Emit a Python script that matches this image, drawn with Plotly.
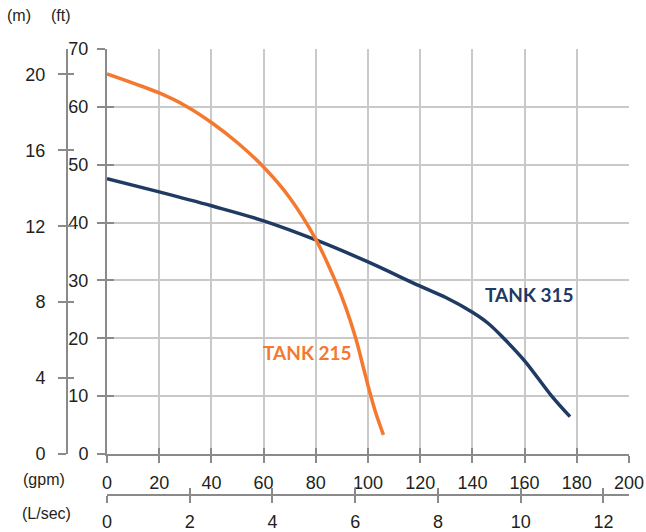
import plotly.graph_objects as go

# ---- data ----
gpm_215 = [0, 10, 20, 30, 40, 50, 60, 70, 80, 87.4, 91.5, 95.3, 98.2, 100.5, 102.9, 105.9]
ft_215 = [65.7, 64.1, 62.4, 60.2, 57.3, 53.8, 49.6, 44.3, 37.1, 30.0, 25.3, 20.0, 15.0, 11.0, 7.2, 3.3]

gpm_315 = [0, 20, 40, 60, 80, 100, 120, 130, 140, 146, 152, 160, 170.4, 177.4]
ft_315 = [47.6, 45.3, 42.9, 40.3, 37.0, 33.2, 29.0, 27.0, 24.5, 22.6, 20.0, 16.1, 10.0, 6.45]

gpm_ticks = [0, 20, 40, 60, 80, 100, 120, 140, 160, 180, 200]
ft_ticks = [0, 10, 20, 30, 40, 50, 60, 70]
m_ticks = [0, 4, 8, 12, 16, 20]
ls_ticks = [0, 2, 4, 6, 8, 10, 12]

GPM_PER_LS = 15.8503
FT_PER_M = 3.28084
GPM_MAX = 200
FT_MAX = 70

W, H = 646, 532
ML, MR, MT, MB = 0, 17, 49, 0
PW, PH = W - ML - MR, H - MT - MB

def px_x(px):
    return (px - ML) / PW

def px_y(py):
    return (H - MB - py) / PH

AXC = "#8a8a8a"
GRIDC = "#c9c9c9"
TXT = "#231f20"
FONT = "Liberation Sans, Arial, sans-serif"
NAVY = "#1f3a63"
ORANGE = "#f4792f"

x_dom = [px_x(107), 1]
y_dom = [px_y(454), 1]
ls_pos = px_y(495)
m_pos = px_x(67)

fig = go.Figure()
fig.add_trace(go.Scatter(x=gpm_315, y=ft_315, mode="lines",
                         line=dict(color=NAVY, width=3.5, shape="spline", smoothing=1.0),
                         hoverinfo="skip", showlegend=False))
fig.add_trace(go.Scatter(x=gpm_215, y=ft_215, mode="lines",
                         line=dict(color=ORANGE, width=3.5, shape="spline", smoothing=1.0),
                         hoverinfo="skip", showlegend=False))
# empty traces to register the auxiliary axes
for xa, ya in [("x2", "y"), ("x", "y2"), ("x3", "y"), ("x", "y3"), ("x4", "y"), ("x", "y4")]:
    fig.add_trace(go.Scatter(x=[None], y=[None], xaxis=xa, yaxis=ya, mode="lines",
                             hoverinfo="skip", showlegend=False))

tickfont = dict(family=FONT, size=18, color=TXT)

fig.update_layout(
    width=W, height=H,
    margin=dict(l=ML, r=MR, t=MT, b=MB, autoexpand=False),
    paper_bgcolor="white", plot_bgcolor="white",
    xaxis=dict(domain=x_dom, range=[0, GPM_MAX], anchor="y",
               tickvals=gpm_ticks, ticks="outside", ticklen=7, tickwidth=2, tickcolor=AXC,
               showline=True, linecolor=AXC, linewidth=2,
               showgrid=True, gridcolor=GRIDC, gridwidth=2, zeroline=False,
               tickfont=tickfont, ticklabelstandoff=4, fixedrange=True),
    yaxis=dict(domain=y_dom, range=[0, FT_MAX], anchor="x",
               tickvals=ft_ticks, ticks="outside", ticklen=8, tickwidth=2, tickcolor=AXC,
               showline=True, linecolor=AXC, linewidth=2,
               showgrid=True, gridcolor=GRIDC, gridwidth=2, zeroline=False,
               tickfont=tickfont, ticklabelstandoff=5, fixedrange=True),
    xaxis2=dict(overlaying="x", anchor="free", position=ls_pos, side="bottom",
                range=[0, GPM_MAX / GPM_PER_LS], tickvals=ls_ticks,
                ticks="outside", ticklen=7, tickwidth=2, tickcolor=AXC,
                showline=True, linecolor=AXC, linewidth=2,
                showgrid=False, zeroline=False,
                tickfont=tickfont, ticklabelstandoff=3, fixedrange=True),
    yaxis2=dict(overlaying="y", anchor="free", position=m_pos, side="left",
                range=[0, FT_MAX / FT_PER_M], tickvals=m_ticks,
                ticks="outside", ticklen=8, tickwidth=2, tickcolor=AXC,
                showline=True, linecolor=AXC, linewidth=2,
                showgrid=False, zeroline=False,
                tickfont=tickfont, ticklabelstandoff=9, fixedrange=True),
    # inside halves of the crossing ticks
    xaxis3=dict(overlaying="x", anchor="y", range=[0, GPM_MAX], tickvals=gpm_ticks,
                ticks="inside", ticklen=6, tickwidth=2, tickcolor=AXC,
                showticklabels=False, showline=False, showgrid=False, zeroline=False,
                fixedrange=True),
    yaxis3=dict(overlaying="y", anchor="x", range=[0, FT_MAX], tickvals=ft_ticks,
                ticks="inside", ticklen=7, tickwidth=2, tickcolor=AXC,
                showticklabels=False, showline=False, showgrid=False, zeroline=False,
                fixedrange=True),
    xaxis4=dict(overlaying="x", anchor="free", position=ls_pos, side="bottom",
                range=[0, GPM_MAX / GPM_PER_LS], tickvals=ls_ticks,
                ticks="inside", ticklen=7, tickwidth=2, tickcolor=AXC,
                showticklabels=False, showline=False, showgrid=False, zeroline=False,
                fixedrange=True),
    yaxis4=dict(overlaying="y", anchor="free", position=m_pos, side="left",
                range=[0, FT_MAX / FT_PER_M], tickvals=m_ticks,
                ticks="inside", ticklen=6, tickwidth=2, tickcolor=AXC,
                showticklabels=False, showline=False, showgrid=False, zeroline=False,
                fixedrange=True),
)

unitfont = dict(family=FONT, size=16, color=TXT)
units = [("(m)", 19, 16), ("(ft)", 61, 16), ("(gpm)", 44, 479), ("(L/sec)", 46, 513)]
for txt, cx, cy in units:
    fig.add_annotation(text=txt, xref="paper", yref="paper", x=px_x(cx), y=px_y(cy),
                       xanchor="center", yanchor="middle", showarrow=False, font=unitfont)

labfont = "Lato, Open Sans, sans-serif"
fig.add_annotation(text="<b>TANK 315</b>", x=161.7, y=27.5, xref="x", yref="y",
                   xanchor="center", yanchor="middle", showarrow=False,
                   font=dict(family=labfont, size=19, color=NAVY))
fig.add_annotation(text="<b>TANK 215</b>", x=76.8, y=17.5, xref="x", yref="y",
                   xanchor="center", yanchor="middle", showarrow=False,
                   font=dict(family=labfont, size=19, color=ORANGE))

fig.write_html(
    "out.html",
    config={"displayModeBar": False, "staticPlot": True},
    post_script="document.body.style.margin='0';document.body.style.overflow='hidden';",
)
